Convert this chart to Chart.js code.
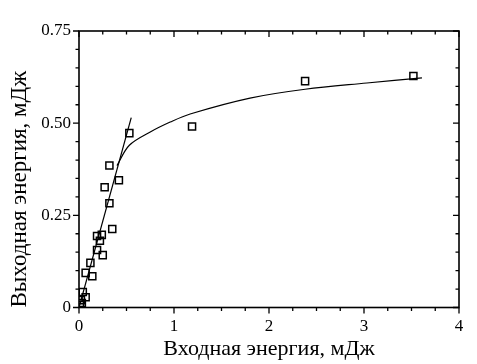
<!DOCTYPE html>
<html>
<head>
<meta charset="utf-8">
<script src="https://cdn.jsdelivr.net/npm/chart.js@4"></script>
<style>
  html, body { margin: 0; padding: 0; background: #fff; }
  #wrap { width: 477px; height: 364px; }
</style>
</head>
<body>
<div id="wrap"><canvas id="chart" width="477" height="364"></canvas></div>
<script>
// measured points (input energy, output energy), mJ
const inputEnergy = [3.52, 2.38, 1.19, 0.53, 0.32, 0.27, 0.42, 0.32, 0.35, 0.24, 0.19, 0.22, 0.19, 0.25, 0.12, 0.07, 0.14, 0.07, 0.03, 0.02, 0.04, 0.01];
const outputEnergy = [0.628, 0.614, 0.491, 0.473, 0.385, 0.326, 0.345, 0.283, 0.213, 0.197, 0.194, 0.181, 0.156, 0.142, 0.121, 0.094, 0.085, 0.028, 0.012, 0.02, 0.042, 0.007];

// linear fit at low energy
const lineX = [0, 0.55];
const lineY = [0, 0.515];

// saturation curve
const curveX = [0.40, 0.53, 0.75, 0.96, 1.17, 1.80, 2.38, 3.03, 3.61];
const curveY = [0.385, 0.44, 0.476, 0.503, 0.525, 0.568, 0.592, 0.609, 0.623];

const xTicks = ['0', '1', '2', '3', '4'];
const yTicks = ['0', '0.25', '0.50', '0.75'];

const serif = "'Liberation Serif', 'Times New Roman', serif";
const pairs = (xs, ys) => xs.map((x, i) => ({ x: x, y: ys[i] }));

// frame + major/minor ticks (outward on left/bottom, inward on top/right)
const frameTicks = {
    id: 'frameTicks',
    afterDraw(chart) {
        const { ctx, chartArea: a, scales: { x, y } } = chart;
        ctx.save();
        ctx.strokeStyle = '#000';
        ctx.lineWidth = 1.6;
        ctx.strokeRect(a.left, a.top, a.right - a.left, a.bottom - a.top);
        ctx.lineWidth = 1.3;
        ctx.beginPath();
        for (let v = 0; v <= 4.001; v += 0.25) {
            const px = x.getPixelForValue(v);
            const major = Math.abs(v - Math.round(v)) < 1e-6;
            const len = major ? 6 : 3.5;
            ctx.moveTo(px, a.bottom); ctx.lineTo(px, a.bottom + len);
            ctx.moveTo(px, a.top); ctx.lineTo(px, a.top + len);
        }
        for (let v = 0; v <= 0.7501; v += 0.05) {
            const py = y.getPixelForValue(v);
            const major = Math.abs(v / 0.25 - Math.round(v / 0.25)) < 1e-6;
            const len = major ? 6 : 3.5;
            ctx.moveTo(a.left, py); ctx.lineTo(a.left - len, py);
            ctx.moveTo(a.right, py); ctx.lineTo(a.right - len, py);
        }
        ctx.stroke();
        ctx.restore();
    }
};

new Chart(document.getElementById('chart'), {
    type: 'scatter',
    data: {
        datasets: [
            {
                label: 'fit',
                data: pairs(lineX, lineY),
                showLine: true,
                borderColor: '#000',
                borderWidth: 1.2,
                pointRadius: 0,
                fill: false
            },
            {
                label: 'saturation',
                data: pairs(curveX, curveY),
                showLine: true,
                borderColor: '#000',
                borderWidth: 1.2,
                pointRadius: 0,
                tension: 0.35,
                fill: false
            },
            {
                label: 'measured',
                data: pairs(inputEnergy, outputEnergy),
                pointStyle: 'rect',
                pointRadius: 5,
                pointBorderWidth: 1.5,
                pointBorderColor: '#000',
                pointBackgroundColor: 'rgba(255,255,255,0)',
                showLine: false
            }
        ]
    },
    options: {
        responsive: false,
        animation: false,
        layout: { padding: { left: 0, right: 18, top: 31, bottom: 0 } },
        plugins: { legend: { display: false }, tooltip: { enabled: false } },
        scales: {
            x: {
                type: 'linear',
                min: 0,
                max: 4,
                afterFit: (s) => { s.height = 56.5; },
                afterBuildTicks: (s) => { s.ticks = xTicks.map(t => ({ value: parseFloat(t) })); },
                grid: { display: false, drawTicks: false },
                border: { display: false },
                ticks: {
                    padding: 9,
                    color: '#000',
                    font: { family: serif, size: 17 },
                    callback: (v, i) => xTicks[i]
                },
                title: {
                    display: true,
                    text: 'Входная энергия, мДж',
                    color: '#000',
                    font: { family: serif, size: 22 },
                    padding: { top: 0, bottom: 2 }
                }
            },
            y: {
                type: 'linear',
                min: 0,
                max: 0.75,
                afterFit: (s) => { s.width = 79; },
                afterBuildTicks: (s) => { s.ticks = yTicks.map(t => ({ value: parseFloat(t) })); },
                grid: { display: false, drawTicks: false },
                border: { display: false },
                ticks: {
                    padding: 8,
                    color: '#000',
                    font: { family: serif, size: 17 },
                    callback: (v, i) => yTicks[i]
                },
                title: {
                    display: true,
                    text: 'Выходная энергия, мДж',
                    align: 'start',
                    color: '#000',
                    font: { family: serif, size: 23 },
                    padding: { top: 6, bottom: 0 }
                }
            }
        }
    },
    plugins: [frameTicks]
});
</script>
</body>
</html>
